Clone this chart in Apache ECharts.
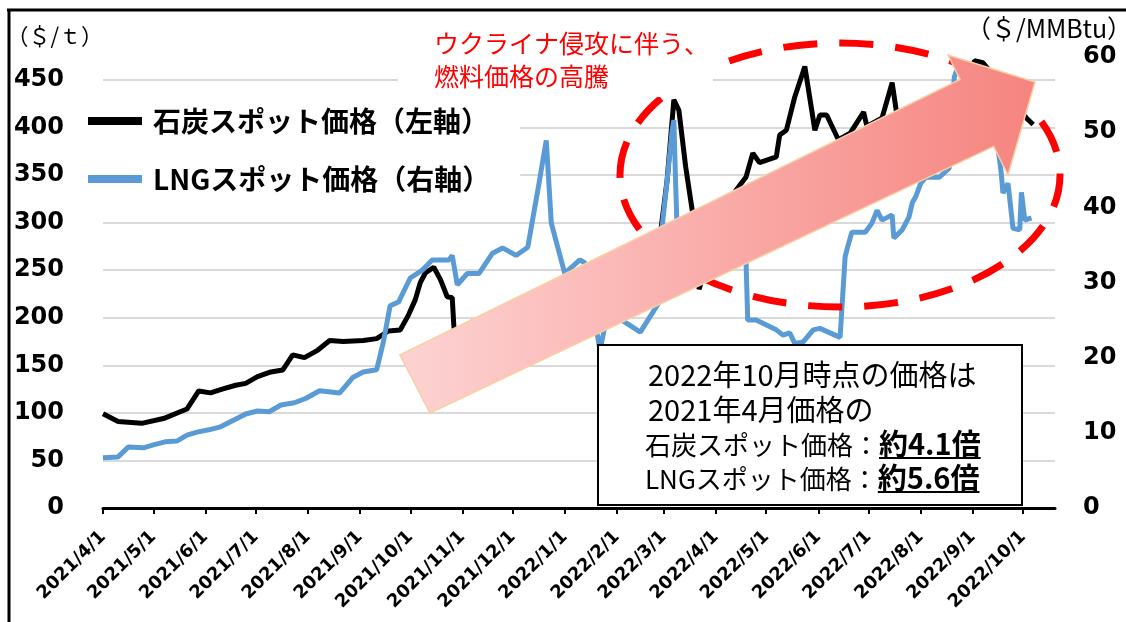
<!DOCTYPE html>
<html>
<head>
<meta charset="utf-8">
<script src="https://cdn.jsdelivr.net/npm/echarts@6/dist/echarts.min.js"></script>
<style>
html, body { margin: 0; padding: 0; background: #fff; }
#main { width: 1126px; height: 622px; }
</style>
</head>
<body>
<div id="main"></div>
<script>
// 目盛り（月初）
const monthTicks = [
  '2021/4/1', '2021/5/1', '2021/6/1', '2021/7/1', '2021/8/1', '2021/9/1', '2021/10/1',
  '2021/11/1', '2021/12/1', '2022/1/1', '2022/2/1', '2022/3/1', '2022/4/1', '2022/5/1',
  '2022/6/1', '2022/7/1', '2022/8/1', '2022/9/1', '2022/10/1'
];

// 石炭スポット価格（$/t）
const coalDates = [
  '2021/4/1', '2021/4/10', '2021/4/24', '2021/5/7', '2021/5/21', '2021/5/28', '2021/6/4',
  '2021/6/11', '2021/6/19', '2021/6/25', '2021/7/2', '2021/7/10', '2021/7/17', '2021/7/23',
  '2021/7/30', '2021/8/7', '2021/8/14', '2021/8/22', '2021/9/3', '2021/9/11', '2021/9/18',
  '2021/9/25', '2021/9/30', '2021/10/4', '2021/10/7', '2021/10/10', '2021/10/15', '2021/10/19',
  '2021/10/23', '2021/10/26', '2021/10/27', '2021/11/5', '2021/11/19', '2021/12/3', '2021/12/17',
  '2021/12/31', '2022/1/14', '2022/1/28', '2022/2/11', '2022/2/25', '2022/3/3', '2022/3/7',
  '2022/3/10', '2022/3/14', '2022/3/18', '2022/3/22', '2022/3/26', '2022/4/3', '2022/4/13',
  '2022/4/19', '2022/4/23', '2022/4/27', '2022/5/7', '2022/5/9', '2022/5/13', '2022/5/18',
  '2022/5/24', '2022/5/30', '2022/6/2', '2022/6/6', '2022/6/13', '2022/6/20', '2022/6/28',
  '2022/6/30', '2022/7/9', '2022/7/15', '2022/7/18', '2022/7/25', '2022/8/1', '2022/8/10',
  '2022/8/20', '2022/8/28', '2022/9/2', '2022/9/7', '2022/9/20', '2022/9/28', '2022/10/4',
  '2022/10/7'
];
const coalPrices = [
  99, 91, 89, 94, 104, 123, 121,
  125, 129, 131, 138, 143, 145, 161,
  158, 166, 176, 175, 176, 178, 186,
  187, 203, 219, 237, 247, 253, 240,
  222, 221, 190, 160, 155, 160, 165,
  185, 200, 225, 240, 260, 345, 429,
  418, 359, 312, 230, 253, 290, 334,
  348, 373, 363, 369, 392, 397, 432,
  464, 397, 413, 413, 387, 394, 416,
  401, 410, 447, 411, 405, 400, 410,
  420, 435, 470, 468, 440, 420, 408,
  403
];

// LNGスポット価格（$/MMBtu）
const lngDates = [
  '2021/4/1', '2021/4/10', '2021/4/16', '2021/4/25', '2021/5/1', '2021/5/8', '2021/5/15',
  '2021/5/21', '2021/5/27', '2021/6/3', '2021/6/10', '2021/6/18', '2021/6/25', '2021/7/2',
  '2021/7/9', '2021/7/16', '2021/7/24', '2021/7/31', '2021/8/8', '2021/8/20', '2021/8/28',
  '2021/9/3', '2021/9/11', '2021/9/15', '2021/9/19', '2021/9/24', '2021/10/1', '2021/10/8',
  '2021/10/14', '2021/10/24', '2021/10/26', '2021/10/29', '2021/11/4', '2021/11/11', '2021/11/19',
  '2021/11/25', '2021/12/3', '2021/12/10', '2021/12/16', '2021/12/21', '2021/12/24', '2022/1/1',
  '2022/1/10', '2022/1/13', '2022/1/22', '2022/1/26', '2022/2/4', '2022/2/15', '2022/2/26',
  '2022/2/28', '2022/3/3', '2022/3/6', '2022/3/7', '2022/3/8', '2022/3/9', '2022/3/12',
  '2022/3/25', '2022/4/8', '2022/4/19', '2022/4/20', '2022/4/25', '2022/5/7', '2022/5/11',
  '2022/5/15', '2022/5/18', '2022/5/23', '2022/5/29', '2022/6/2', '2022/6/8', '2022/6/14',
  '2022/6/17', '2022/6/18', '2022/6/21', '2022/6/29', '2022/7/3', '2022/7/6', '2022/7/9',
  '2022/7/15', '2022/7/16', '2022/7/21', '2022/7/25', '2022/7/27', '2022/7/29', '2022/8/1',
  '2022/8/4', '2022/8/12', '2022/8/18', '2022/8/21', '2022/8/24', '2022/9/1', '2022/9/10',
  '2022/9/16', '2022/9/18', '2022/9/19', '2022/9/22', '2022/9/25', '2022/9/29', '2022/9/30',
  '2022/10/2', '2022/10/6'
];
const lngPrices = [
  6.7, 6.8, 8.1, 8.0, 8.4, 8.8, 8.9,
  9.7, 10.1, 10.4, 10.8, 11.7, 12.5, 12.9,
  12.8, 13.7, 14.0, 14.6, 15.6, 15.3, 17.4,
  18.1, 18.4, 22.1, 26.9, 27.4, 30.6, 31.6,
  33.0, 33.0, 33.6, 29.7, 31.2, 31.2, 33.9,
  34.6, 33.6, 34.7, 42.3, 48.9, 37.9, 31.2,
  33.0, 32.6, 21.0, 25.3, 25.0, 23.4, 27.3,
  37.4, 43.6, 50.3, 51.6, 43.6, 36.6, 33.0,
  35.0, 36.0, 32.6, 25.0, 25.0, 23.7, 23.0,
  23.3, 21.9, 22.1, 23.7, 23.9, 23.3, 22.7,
  33.4, 34.3, 36.7, 36.7, 37.9, 39.6, 38.3,
  39.0, 35.9, 37.0, 38.7, 40.6, 41.4, 43.2,
  44.0, 44.0, 45.2, 57.3, 59.2, 57.0, 52.0,
  48.0, 44.5, 41.9, 43.2, 37.2, 37.0, 42.0,
  38.3, 38.6
];

const JP_FONT = '"Noto Sans CJK JP", sans-serif';
const NUM_FONT = '"DejaVu Sans", sans-serif';

const toTime = s => new Date(s).getTime();
const tickValues = monthTicks.map(toTime);

// 下線の長さを測る
const ctx = document.createElement('canvas').getContext('2d');
function textWidth(text, font) {
  ctx.font = font;
  return ctx.measureText(text).width;
}
const boxX = 645;
const headFont = '29px "Noto Sans CJK JP"';
const normFont = '26px "Noto Sans CJK JP"';
const boldFont = 'bold 29px "Noto Sans CJK JP"';
const u1x = boxX + textWidth('石炭スポット価格：', normFont);
const u1w = textWidth('約4.1倍', boldFont);
const u2x = boxX + textWidth('LNGスポット価格：', normFont);
const u2w = textWidth('約5.6倍', boldFont);

const chart = echarts.init(document.getElementById('main'));

const option = {
  animation: false,
  backgroundColor: '#fff',
  grid: { left: 103, right: 71, top: 57, bottom: 114, outerBoundsMode: 'none' },
  legend: {
    orient: 'vertical',
    left: 84,
    top: 100,
    icon: 'rect',
    itemWidth: 54,
    itemHeight: 8,
    itemGap: 28,
    backgroundColor: '#fff',
    padding: [6, 30, 6, 4],
    textStyle: {
      fontFamily: JP_FONT,
      fontSize: 28,
      fontWeight: 'bold',
      color: '#000',
      lineHeight: 30,
      padding: [0, 0, 0, 6]
    },
    z: 4
  },
  xAxis: {
    type: 'value',
    min: toTime('2021/4/1'),
    max: toTime('2022/10/20'),
    axisLine: { lineStyle: { color: '#000', width: 3 } },
    axisTick: {
      show: true,
      length: 6,
      lineStyle: { color: '#000', width: 2 },
      customValues: tickValues
    },
    axisLabel: {
      rotate: 45,
      margin: 26,
      color: '#000',
      fontFamily: NUM_FONT,
      fontWeight: 'bold',
      fontSize: 18,
      customValues: tickValues,
      formatter: function (v) {
        return monthTicks[tickValues.indexOf(v)] || '';
      }
    },
    splitLine: { show: false }
  },
  yAxis: [
    {
      type: 'value',
      min: 0,
      max: 474,
      interval: 50,
      name: '（＄/ｔ）',
      nameLocation: 'end',
      nameGap: 21,
      nameTextStyle: {
        fontFamily: JP_FONT,
        fontSize: 22,
        color: '#000',
        align: 'right',
        verticalAlign: 'middle'
      },
      axisLine: { show: false },
      axisTick: { show: false },
      axisLabel: {
        margin: 39,
        color: '#000',
        fontFamily: NUM_FONT,
        fontWeight: 'bold',
        fontSize: 24,
        showMaxLabel: false
      },
      splitLine: {
        show: true,
        showMaxLine: false,
        lineStyle: { color: '#d9d9d9', width: 2 }
      }
    },
    {
      type: 'value',
      min: 0,
      max: 60,
      interval: 10,
      name: '（＄/MMBtu）',
      nameLocation: 'end',
      nameGap: 29,
      nameTextStyle: {
        fontFamily: JP_FONT,
        fontSize: 25,
        color: '#000',
        align: 'center',
        verticalAlign: 'middle',
        padding: [0, 12, 0, 0]
      },
      axisLine: { show: false },
      axisTick: { show: false },
      axisLabel: {
        margin: 28,
        color: '#000',
        fontFamily: NUM_FONT,
        fontWeight: 'bold',
        fontSize: 24
      },
      splitLine: { show: false }
    }
  ],
  series: [
    {
      name: '石炭スポット価格（左軸）',
      type: 'line',
      yAxisIndex: 0,
      showSymbol: false,
      color: '#000000',
      lineStyle: { width: 5, color: '#000000' },
      data: coalDates.map((d, i) => [toTime(d), coalPrices[i]]),
      z: 2
    },
    {
      name: 'LNGスポット価格（右軸）',
      type: 'line',
      yAxisIndex: 1,
      showSymbol: false,
      color: '#5b9bd5',
      lineStyle: { width: 5, color: '#5b9bd5' },
      data: lngDates.map((d, i) => [toTime(d), lngPrices[i]]),
      z: 2
    }
  ],
  graphic: [
    // 赤い破線の楕円
    {
      type: 'ellipse',
      z: 10,
      shape: { cx: 840, cy: 175, rx: 220, ry: 132 },
      style: { fill: null, stroke: '#ff0000', lineWidth: 7, lineDash: [34, 22] }
    },
    // 矢印
    {
      type: 'polygon',
      z: 11,
      shape: {
        points: [[400, 355], [960, 79.5], [948, 55], [1035, 82], [1008, 175], [993.7, 146.4], [430, 413]]
      },
      style: {
        fill: new echarts.graphic.LinearGradient(0, 0, 1, 0, [
          { offset: 0, color: '#fdd3d3' },
          { offset: 1, color: '#f6847f' }
        ]),
        stroke: '#f9cfa2',
        lineWidth: 1.5
      }
    },
    // 注記
    {
      type: 'text',
      z: 12,
      x: 398,
      y: 23,
      style: {
        text: 'ウクライナ侵攻に伴う、\n燃料価格の高騰',
        fill: '#ff0000',
        font: '25px "Noto Sans CJK JP"',
        lineHeight: 33,
        backgroundColor: '#fff',
        padding: [4, 4, 4, 36],
        align: 'left',
        verticalAlign: 'top'
      }
    },
    // 枠付きテキスト
    {
      type: 'rect',
      z: 12,
      shape: { x: 598, y: 345, width: 424, height: 160 },
      style: { fill: '#fff', stroke: '#000', lineWidth: 2 }
    },
    {
      type: 'text', z: 13, x: boxX + 3, y: 375,
      style: { text: '2022年10月時点の価格は', fill: '#000', font: headFont, align: 'left', verticalAlign: 'middle' }
    },
    {
      type: 'text', z: 13, x: boxX + 3, y: 410,
      style: { text: '2021年4月価格の', fill: '#000', font: headFont, align: 'left', verticalAlign: 'middle' }
    },
    {
      type: 'text', z: 13, x: boxX, y: 445,
      style: { text: '石炭スポット価格：', fill: '#000', font: normFont, align: 'left', verticalAlign: 'middle' }
    },
    {
      type: 'text', z: 13, x: u1x, y: 444,
      style: { text: '約4.1倍', fill: '#000', font: boldFont, align: 'left', verticalAlign: 'middle' }
    },
    {
      type: 'line', z: 13,
      shape: { x1: u1x, y1: 458, x2: u1x + u1w, y2: 458 },
      style: { stroke: '#000', lineWidth: 2 }
    },
    {
      type: 'text', z: 13, x: boxX, y: 479,
      style: { text: 'LNGスポット価格：', fill: '#000', font: normFont, align: 'left', verticalAlign: 'middle' }
    },
    {
      type: 'text', z: 13, x: u2x, y: 478,
      style: { text: '約5.6倍', fill: '#000', font: boldFont, align: 'left', verticalAlign: 'middle' }
    },
    {
      type: 'line', z: 13,
      shape: { x1: u2x, y1: 492, x2: u2x + u2w, y2: 492 },
      style: { stroke: '#000', lineWidth: 2 }
    },
    // 外枠（上・左）
    {
      type: 'line', z: 20,
      shape: { x1: 7, y1: 10, x2: 1126, y2: 10 },
      style: { stroke: '#000', lineWidth: 3 }
    },
    {
      type: 'line', z: 20,
      shape: { x1: 9, y1: 9, x2: 9, y2: 622 },
      style: { stroke: '#000', lineWidth: 3 }
    }
  ]
};

chart.setOption(option);
</script>
</body>
</html>
